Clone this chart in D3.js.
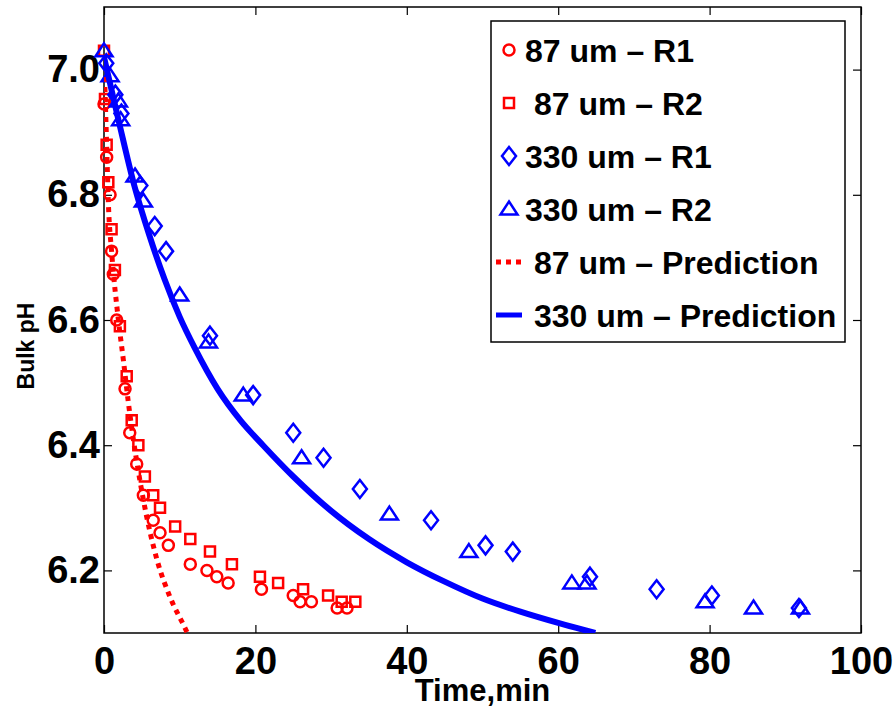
<!DOCTYPE html>
<html>
<head>
<meta charset="utf-8">
<script src="https://cdn.jsdelivr.net/npm/d3@7"></script>
<style>
  body { margin: 0; background: #fff; }
  text { font-family: "Liberation Sans", Arial, sans-serif; font-weight: bold; }
</style>
</head>
<body>
<div id="chartDiv"></div>
<script>
; (function () {

	var width = 896;
	var height = 707;
	var margin = { top: 7, right: 35, bottom: 74, left: 104 };

	// data: [time (min), bulk pH]
	var r87a = [[0, 6.945], [0.35, 6.86], [0.8, 6.80], [1.0, 6.71], [1.23, 6.673], [1.68, 6.60], [2.78, 6.49],
		[3.4, 6.42], [4.32, 6.37], [5.2, 6.32], [6.5, 6.28], [7.4, 6.26], [8.5, 6.24], [11.4, 6.21], [13.6, 6.20],
		[14.9, 6.19], [16.4, 6.18], [20.8, 6.17], [25.0, 6.16], [25.9, 6.15], [27.4, 6.15], [30.8, 6.14], [32.1, 6.14]];
	var r87b = [[0, 7.03], [0.13, 6.953], [0.35, 6.88], [0.57, 6.82], [1.0, 6.745], [1.44, 6.68], [2.1, 6.59],
		[3.0, 6.51], [3.66, 6.44], [4.54, 6.40], [5.4, 6.35], [6.5, 6.32], [7.4, 6.30], [9.4, 6.27], [11.4, 6.25],
		[14.0, 6.23], [16.9, 6.21], [20.6, 6.19], [23.0, 6.18], [26.3, 6.17], [29.6, 6.16], [31.4, 6.15], [33.2, 6.15]];
	var r330a = [[0.3, 7.01], [1.5, 6.96], [2.3, 6.93], [4.8, 6.815], [6.7, 6.75], [8.2, 6.71], [14.0, 6.575],
		[19.7, 6.48], [25.0, 6.42], [29.0, 6.38], [33.8, 6.33], [43.2, 6.28], [50.4, 6.24], [54.0, 6.23],
		[64.2, 6.19], [73.0, 6.17], [80.3, 6.16], [91.8, 6.14]];
	var r330b = [[0, 7.03], [0.8, 6.99], [1.9, 6.95], [2.2, 6.92], [4.1, 6.83], [5.2, 6.79], [10.0, 6.64],
		[13.8, 6.565], [18.4, 6.48], [26.1, 6.38], [37.7, 6.29], [48.2, 6.23], [61.8, 6.18], [63.8, 6.18],
		[79.4, 6.15], [85.8, 6.14], [92.0, 6.14]];
	var pred87 = [[0, 7.02], [0.3, 6.9], [0.6, 6.78], [1.0, 6.71], [1.9, 6.6], [2.55, 6.537], [3.2, 6.47],
		[5.2, 6.313], [7.0, 6.217], [8.7, 6.158], [10.7, 6.108], [11.2, 6.095]];
	var pred330 = [[0, 7.02], [2, 6.915], [4, 6.815], [6, 6.735], [8, 6.665], [10, 6.605], [12, 6.555],
		[15, 6.49], [18, 6.44], [21, 6.40], [25, 6.35], [30, 6.295], [35, 6.25], [40, 6.213], [45, 6.182],
		[50, 6.155], [55, 6.134], [60, 6.116], [64.9, 6.10]];

	var xTicks = [0, 20, 40, 60, 80, 100];
	var yTicks = [6.2, 6.4, 6.6, 6.8, 7.0];
	var legendLabels = ["87 um \u2013 R1", " 87 um \u2013 R2", "330 um \u2013 R1", "330 um \u2013 R2",
		" 87 um \u2013 Prediction", " 330 um \u2013 Prediction"];

	var red = "#ff0000";
	var blue = "#0000ff";

	// marker shapes, matlab style
	var circleSym = { draw: function (c) { c.moveTo(5.5, 0); c.arc(0, 0, 5.5, 0, 2 * Math.PI); } };
	var squareSym = { draw: function (c) { c.rect(-5, -5, 10, 10); } };
	var diamondSym = { draw: function (c) { c.moveTo(0, -9); c.lineTo(7, 0); c.lineTo(0, 9); c.lineTo(-7, 0); c.closePath(); } };
	var triangleSym = { draw: function (c) { c.moveTo(0, -7.5); c.lineTo(8.5, 5.5); c.lineTo(-8.5, 5.5); c.closePath(); } };

	var chartWidth = width - margin.left - margin.right;
	var chartHeight = height - margin.top - margin.bottom;

	var chart = d3.select("#chartDiv").append("svg")
		.attr("width", width)
		.attr("height", height);

	var plot = chart.append("g")
		.attr("transform", "translate(" + margin.left + "," + margin.top + ")");

	var x = d3.scaleLinear().domain([0, 100]).range([0, chartWidth]);
	var y = d3.scaleLinear().domain([6.1, 7.1]).range([chartHeight, 0]);

	plot.append("clipPath").attr("id", "clip")
		.append("rect").attr("width", chartWidth).attr("height", chartHeight);

	// axes, ticks inward on all four sides
	function styleAxis(g) {
		g.select(".domain").remove();
		g.selectAll(".tick line").attr("stroke", "#000").attr("stroke-width", 1.2);
		g.selectAll(".tick text").attr("fill", "#000").style("font-size", "38px");
	}

	plot.append("g")
		.attr("transform", "translate(0," + chartHeight + ")")
		.call(d3.axisBottom(x).tickValues(xTicks).tickSize(-8).tickPadding(14).tickFormat(d3.format("d")))
		.call(styleAxis)
		.selectAll(".tick text").attr("dy", "0.71em").attr("y", 14);

	plot.append("g")
		.call(d3.axisTop(x).tickValues(xTicks).tickSize(-8).tickFormat(""))
		.call(styleAxis);

	plot.append("g")
		.call(d3.axisLeft(y).tickValues(yTicks).tickSize(-8).tickPadding(4).tickFormat(d3.format(".1f")))
		.call(styleAxis);

	plot.append("g")
		.attr("transform", "translate(" + chartWidth + ",0)")
		.call(d3.axisRight(y).tickValues(yTicks).tickSize(-8).tickFormat(""))
		.call(styleAxis);

	plot.append("rect")
		.attr("width", chartWidth).attr("height", chartHeight)
		.attr("fill", "none").attr("stroke", "#000").attr("stroke-width", 1.5);

	// data markers
	function drawMarkers(data, sym, color) {
		plot.append("g").selectAll("path").data(data).enter().append("path")
			.attr("d", d3.symbol().type(sym))
			.attr("transform", function (d) { return "translate(" + x(d[0]) + "," + y(d[1]) + ")"; })
			.attr("fill", "none").attr("stroke", color).attr("stroke-width", 2.5);
	}
	drawMarkers(r87a, circleSym, red);
	drawMarkers(r87b, squareSym, red);
	drawMarkers(r330a, diamondSym, blue);
	drawMarkers(r330b, triangleSym, blue);

	var line = d3.line().curve(d3.curveMonotoneX)
		.x(function (d) { return x(d[0]); })
		.y(function (d) { return y(d[1]); });

	plot.append("path").datum(pred87)
		.attr("clip-path", "url(#clip)")
		.attr("d", line).attr("fill", "none")
		.attr("stroke", red).attr("stroke-width", 5).attr("stroke-dasharray", "5,5");

	plot.append("path").datum(pred330)
		.attr("clip-path", "url(#clip)")
		.attr("d", line).attr("fill", "none")
		.attr("stroke", blue).attr("stroke-width", 6);

	// axis titles
	chart.append("text")
		.attr("text-anchor", "middle")
		.style("font-size", "31px")
		.attr("transform", "translate(" + (margin.left + chartWidth / 2.0) + ",701)")
		.text("Time,min");

	chart.append("text")
		.attr("text-anchor", "middle")
		.style("font-size", "23px")
		.attr("transform", "translate(34,346) rotate(-90)")
		.text("Bulk pH");

	// legend
	var legend = chart.append("g").attr("transform", "translate(491,21)");
	legend.append("rect")
		.attr("width", 354).attr("height", 321)
		.attr("fill", "#fff").attr("stroke", "#000").attr("stroke-width", 1.5);

	var legendSyms = [circleSym, squareSym, diamondSym, triangleSym];
	var legendColors = [red, red, blue, blue, red, blue];

	var items = legend.selectAll(".item").data(legendLabels).enter().append("g")
		.attr("class", "item")
		.attr("transform", function (d, i) { return "translate(0," + (29 + i * 53) + ")"; });

	items.append("text")
		.attr("x", 34).attr("dy", "0.36em")
		.style("font-size", "32px").style("white-space", "pre")
		.text(function (d) { return d; });

	items.filter(function (d, i) { return i < 4; }).append("path")
		.attr("transform", "translate(18,0)")
		.attr("d", function (d, i) { return d3.symbol().type(legendSyms[i])(); })
		.attr("fill", "none")
		.attr("stroke", function (d, i) { return legendColors[i]; })
		.attr("stroke-width", 2.5);

	items.filter(function (d, i) { return i >= 4; }).append("line")
		.attr("x1", 5).attr("x2", 31)
		.attr("stroke", function (d, i) { return legendColors[i + 4]; })
		.attr("stroke-width", 5)
		.attr("stroke-dasharray", function (d, i) { return i == 0 ? "5,5" : null; });

})();
</script>
</body>
</html>
